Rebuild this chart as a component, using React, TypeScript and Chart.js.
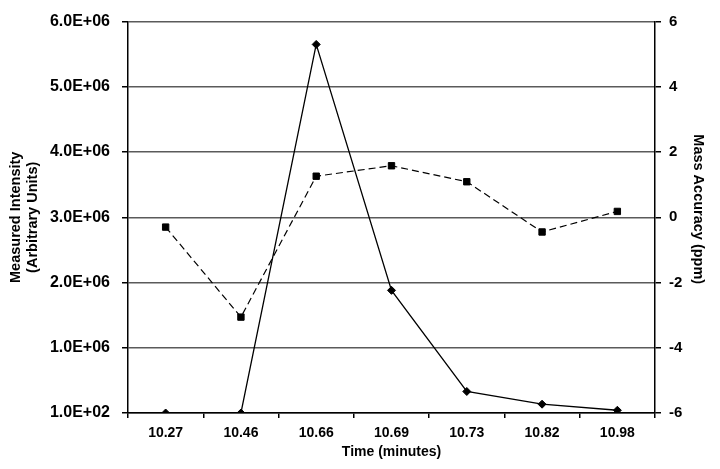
import React, { useEffect, useRef } from "react";
import { Chart, registerables } from "chart.js";

Chart.register(...registerables);

const categories = ["10.27", "10.46", "10.66", "10.69", "10.73", "10.82", "10.98"];
const intensity = [100, 100, 5650000, 1880000, 330000, 135000, 42000];
const massAccuracy = [-0.3, -3.06, 1.26, 1.58, 1.09, -0.45, 0.18];
const intensityTicks = [100, 1000000, 2000000, 3000000, 4000000, 5000000, 6000000];
const accuracyTicks = [-6, -4, -2, 0, 2, 4, 6];

const FONT = "'Liberation Sans', Arial, sans-serif";

function fmtExp(v: number): string {
  const [m, e] = v.toExponential(1).split("e");
  const sign = e[0] === "-" ? "-" : "+";
  const digits = e.replace(/^[+-]/, "").padStart(2, "0");
  return m + "E" + sign + digits;
}

export default function App() {
  const ref = useRef<HTMLCanvasElement | null>(null);
  useEffect(() => {
    document.body.style.margin = "0";
    const canvas = ref.current;
    if (!canvas) return;
    const chart = new Chart(canvas, {
      type: "line",
      data: {
        labels: categories,
        datasets: [
          {
            label: "Measured Intensity",
            data: intensity,
            yAxisID: "y",
            borderColor: "#000",
            backgroundColor: "#000",
            borderWidth: 1.3,
            pointStyle: "rectRot",
            pointRadius: 4,
            pointBorderWidth: 1,
            tension: 0,
          },
          {
            label: "Mass Accuracy",
            data: massAccuracy,
            yAxisID: "y1",
            borderColor: "#000",
            backgroundColor: "#000",
            borderWidth: 1.2,
            borderDash: [7, 4],
            pointStyle: "rect",
            pointRadius: 4.5,
            pointBorderWidth: 1,
            tension: 0,
          },
        ],
      },
      options: {
        responsive: false,
        animation: false,
        devicePixelRatio: 1,
        layout: { padding: { top: 18, left: 0, right: 0, bottom: 0 } },
        plugins: {
          legend: { display: false },
          tooltip: { enabled: false },
        },
        scales: {
          x: {
            type: "category",
            offset: true,
            grid: {
              offset: true,
              drawOnChartArea: false,
              drawTicks: true,
              tickLength: 5,
              tickColor: "#000",
              lineWidth: 1.5,
            },
            border: { color: "#000", width: 1.5 },
            ticks: {
              color: "#000",
              padding: 7,
              font: { family: FONT, size: 14, weight: "bold" },
              maxRotation: 0,
            },
            title: {
              display: true,
              text: "Time (minutes)",
              color: "#000",
              font: { family: FONT, size: 14, weight: "bold", lineHeight: 1.15 },
              padding: { top: 0, bottom: 9 },
            },
            afterFit: (s: any) => {
              s.height = 56;
            },
          },
          y: {
            type: "linear",
            position: "left",
            min: 100,
            max: 6000000,
            afterBuildTicks: (s: any) => {
              s.ticks = intensityTicks.map((v) => ({ value: v }));
            },
            grid: {
              color: "#5a5a5a",
              lineWidth: 1.5,
              drawTicks: true,
              tickLength: 6,
              tickColor: "#000",
            },
            border: { color: "#000", width: 1.5 },
            ticks: {
              color: "#000",
              padding: 12,
              font: { family: FONT, size: 16, weight: "bold" },
              callback: (v: any) => fmtExp(Number(v)),
            },
            title: {
              display: true,
              text: ["Measured Intensity", "(Arbitrary Units)"],
              color: "#000",
              font: { family: FONT, size: 14.5, weight: "bold", lineHeight: 1.2 },
              padding: { top: 7.3, bottom: 0 },
            },
            afterFit: (s: any) => {
              s.width = 128;
            },
          },
          y1: {
            type: "linear",
            position: "right",
            min: -6,
            max: 6,
            afterBuildTicks: (s: any) => {
              s.ticks = accuracyTicks.map((v) => ({ value: v }));
            },
            grid: {
              drawOnChartArea: false,
              drawTicks: true,
              tickLength: 6,
              tickColor: "#000",
              lineWidth: 1.5,
            },
            border: { color: "#000", width: 1.5 },
            ticks: {
              color: "#000",
              padding: 8,
              font: { family: FONT, size: 15, weight: "bold" },
            },
            title: {
              display: true,
              text: "Mass Accuracy (ppm)    ",
              color: "#000",
              font: { family: FONT, size: 14.5, weight: "bold", lineHeight: 1.15 },
              padding: { top: 13.6, bottom: 0 },
            },
            afterFit: (s: any) => {
              s.width = 65;
            },
          },
        },
      },
    } as any);
    return () => chart.destroy();
  }, []);
  return (
    <div style={{ width: 720, height: 469, background: "#fff" }}>
      <canvas ref={ref} width={720} height={469} style={{ display: "block" }} />
    </div>
  );
}
